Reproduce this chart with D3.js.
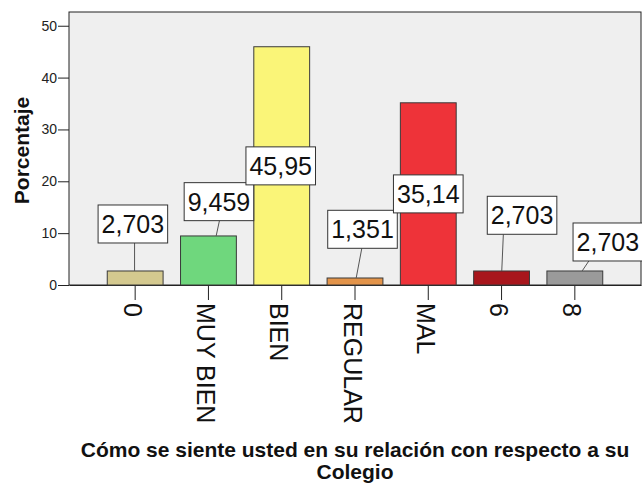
<!DOCTYPE html>
<html>
<head>
<meta charset="utf-8">
<script src="https://cdn.jsdelivr.net/npm/d3@7"></script>
<style>
  html, body { margin: 0; padding: 0; background: #fff; }
  svg { display: block; font-family: Arial, "Liberation Sans", sans-serif; }
</style>
</head>
<body>
<svg id="chart" width="642" height="485"></svg>
<script>
(function(){

  var categories = ['0', 'MUY BIEN', 'BIEN', 'REGULAR', 'MAL', '6', '8'];
  var values = [2.703, 9.459, 45.95, 1.351, 35.14, 2.703, 2.703];
  var valueLabels = ['2,703', '9,459', '45,95', '1,351', '35,14', '2,703', '2,703'];
  var colors = ['#d4c98f', '#6fd77d', '#faf578', '#e3944a', '#ee3339', '#a8161c', '#9a9a9a'];
  var yTicks = [0, 10, 20, 30, 40, 50];

  // where SPSS dropped the label boxes (pixels, relative to the bar)
  var labelLayout = [
    { dx: -2.3, rise: 28, top: 1.7, bottom: -0.6 },
    { dx: 10.5, rise: 15.3, top: 0.5, bottom: 7.7 },
    { dx: -1, mid: true },
    { dx: 7.5, rise: 29.7, top: -0.7, bottom: 1.2 },
    { dx: 0, mid: true },
    { dx: 20.5, rise: 36.7, top: -18.7, bottom: 0.2 },
    { dx: 33, rise: 10, top: -19, bottom: 7.3 }
  ];

  var LEFT = 69, RIGHT = 641, TOP = 12, BOTTOM = 285;
  var BOX_H = 38;

  var svg = d3.select('#chart');

  var x = d3.scaleBand().domain(categories).range([LEFT, RIGHT])
    .paddingInner(0.238).paddingOuter(0.522);
  var y = d3.scaleLinear().domain([0, 52.65]).range([BOTTOM, TOP]);

  // plot background + frame
  svg.append('rect')
    .attr('x', LEFT).attr('y', TOP)
    .attr('width', RIGHT - LEFT).attr('height', BOTTOM - TOP)
    .attr('fill', '#efefef')
    .attr('stroke', '#222')
    .attr('stroke-width', 1);

  // y axis
  var yAxis = svg.append('g')
    .attr('transform', 'translate(' + LEFT + ',0)')
    .call(d3.axisLeft(y).tickValues(yTicks).tickSize(11).tickPadding(1));
  yAxis.select('.domain').remove();
  yAxis.selectAll('line').attr('stroke', '#222');
  yAxis.selectAll('text')
    .attr('font-size', 14)
    .attr('font-family', 'Arial, "Liberation Sans", sans-serif')
    .attr('fill', '#222');

  // x axis, vertical labels
  var xAxis = svg.append('g')
    .attr('transform', 'translate(0,' + BOTTOM + ')')
    .call(d3.axisBottom(x).tickSize(15).tickSizeOuter(0).tickPadding(0));
  xAxis.select('.domain').attr('stroke', '#222');
  xAxis.selectAll('line').attr('stroke', '#222');
  xAxis.selectAll('text')
    .attr('font-size', 25)
    .attr('font-family', 'Arial, "Liberation Sans", sans-serif')
    .attr('fill', '#111')
    .attr('text-anchor', 'start')
    .attr('transform', 'rotate(90)')
    .attr('x', 18)
    .attr('y', 0)
    .attr('dy', 11.5);

  // bars
  svg.append('g')
    .selectAll('rect')
    .data(values)
    .join('rect')
    .attr('x', function (d, i) { return x(categories[i]) })
    .attr('y', function (d) { return y(d) })
    .attr('width', x.bandwidth())
    .attr('height', function (d) { return y(0) - y(d) })
    .attr('fill', function (d, i) { return colors[i] })
    .attr('stroke', '#3a3a3a')
    .attr('stroke-width', 1);

  // label boxes
  function boxCenter(i) {
    var L = labelLayout[i];
    var cx = x(categories[i]) + x.bandwidth() / 2 + L.dx;
    var cy = L.mid ? (y(values[i]) + y(0)) / 2 : y(values[i]) - L.rise - BOX_H / 2;
    return [cx, cy];
  }

  var labels = svg.append('g');

  // leader lines
  labels.selectAll('line')
    .data(values.map(function (d, i) { return i }).filter(function (i) { return !labelLayout[i].mid }))
    .join('line')
    .attr('x1', function (i) { return x(categories[i]) + x.bandwidth() / 2 + labelLayout[i].bottom })
    .attr('y1', function (i) { return y(values[i]) })
    .attr('x2', function (i) { return boxCenter(i)[0] + labelLayout[i].top })
    .attr('y2', function (i) { return boxCenter(i)[1] + BOX_H / 2 })
    .attr('stroke', '#555')
    .attr('stroke-width', 1);

  var lab = labels.selectAll('g.lab')
    .data(values)
    .join('g')
    .attr('class', 'lab')
    .attr('transform', function (d, i) { var c = boxCenter(i); return 'translate(' + c[0] + ',' + c[1] + ')' });

  lab.append('text')
    .attr('text-anchor', 'middle')
    .attr('y', 9)
    .attr('font-size', 25)
    .attr('fill', '#111')
    .text(function (d, i) { return valueLabels[i] });

  lab.insert('rect', 'text')
    .each(function () {
      var w = this.parentNode.querySelector('text').getBBox().width + 7;
      d3.select(this)
        .attr('x', -w / 2).attr('y', -BOX_H / 2)
        .attr('width', w).attr('height', BOX_H);
    })
    .attr('fill', '#fff')
    .attr('stroke', '#333')
    .attr('stroke-width', 1);

  // axis titles
  svg.append('text')
    .attr('transform', 'translate(29,' + 150.5 + ') rotate(-90)')
    .attr('text-anchor', 'middle')
    .attr('font-size', 21)
    .attr('font-weight', 'bold')
    .attr('fill', '#111')
    .text('Porcentaje');

  var title = svg.append('text')
    .attr('text-anchor', 'middle')
    .attr('font-size', 21)
    .attr('font-weight', 'bold')
    .attr('fill', '#111');
  title.append('tspan').attr('x', (LEFT + RIGHT) / 2).attr('y', 457)
    .text('Cómo se siente usted en su relación con respecto a su');
  title.append('tspan').attr('x', (LEFT + RIGHT) / 2).attr('y', 479)
    .text('Colegio');

})()
</script>
</body>
</html>
